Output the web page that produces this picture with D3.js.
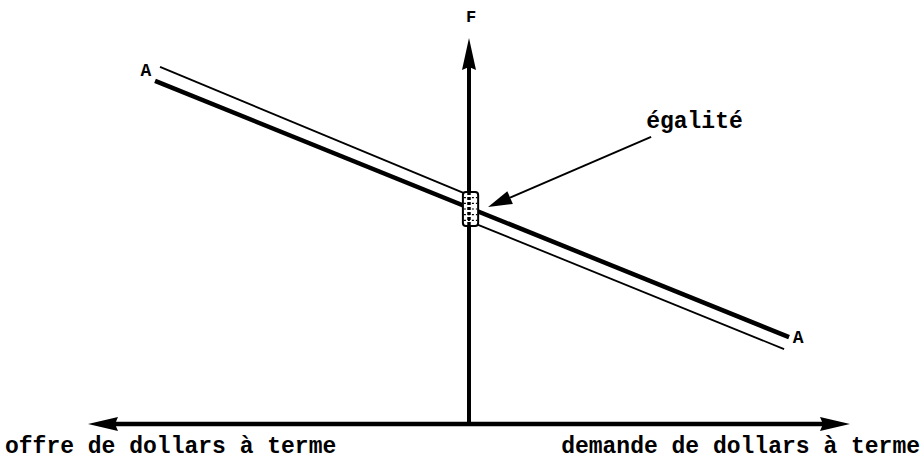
<!DOCTYPE html>
<html>
<head>
<meta charset="utf-8">
<script src="https://cdn.jsdelivr.net/npm/d3@7"></script>
<style>
  html, body { margin: 0; padding: 0; background: #fff; }
  svg { display: block; }
  text { font-family: "Liberation Mono", "DejaVu Sans Mono", monospace; font-weight: bold; fill: #000; }
</style>
</head>
<body>
<svg id="chart" width="924" height="461"></svg>
<script>
// ---- data (chart units: x = dollar quantity, negative = offre, positive = demande; y = F) ----
const xDomain = [-10, 10];
const yDomain = [0, 10];
const axisLabels = ["offre de dollars à terme", "demande de dollars à terme"];
const yAxisLabel = "F";
const curveNames = ["A", "A"];
// curve A (thick)
const curveThick = [[-8.24, 8.89], [8.40, 2.25]];
// thin twin: above A on the left of the F axis, below A on the right
const curveThinLeft = [[-8.11, 9.25], [-0.13, 5.98]];
const curveThinRight = [[0.24, 5.16], [8.27, 1.94]];
const curveLabelPts = [[-8.48, 9.17], [8.64, 2.25]];
const equalityBox = [[-0.16, 6.01], [0.24, 5.13]];
const annotationText = "égalité";
const annotationTextPt = [4.65, 7.67];
const annotationFrom = [4.78, 7.44];
const annotationTo = [0.5, 5.62];

// ---- scales ----
const W = 924, H = 461;
const x = d3.scaleLinear().domain(xDomain).range([88, 850]);
const y = d3.scaleLinear().domain(yDomain).range([424, 38]);

const svg = d3.select("#chart");
svg.append("rect").attr("width", W).attr("height", H).attr("fill", "#fff");

const line = d3.line().x(d => x(d[0])).y(d => y(d[1]));

// ---- axes with arrowheads ----
const x0 = x(0), y0 = y(0);
const xl = x(xDomain[0]), xr = x(xDomain[1]), yt = y(yDomain[1]);
svg.append("line")
  .attr("x1", xl + 20).attr("x2", xr - 20)
  .attr("y1", y0).attr("y2", y0)
  .attr("stroke", "#000").attr("stroke-width", 4.5);
svg.append("path")
  .attr("d", `M${xl},${y0} L${xl + 30},${y0 - 7} L${xl + 27},${y0} L${xl + 30},${y0 + 7} Z`)
  .attr("fill", "#000");
svg.append("path")
  .attr("d", `M${xr},${y0} L${xr - 30},${y0 - 7} L${xr - 27},${y0} L${xr - 30},${y0 + 7} Z`)
  .attr("fill", "#000");
svg.append("line")
  .attr("x1", x0).attr("x2", x0)
  .attr("y1", y0).attr("y2", yt + 20)
  .attr("stroke", "#000").attr("stroke-width", 4);
svg.append("path")
  .attr("d", `M${x0},${yt} L${x0 - 7},${yt + 32} L${x0},${yt + 29} L${x0 + 7},${yt + 32} Z`)
  .attr("fill", "#000");

// axis labels
svg.append("text").attr("x", 5).attr("y", 453)
  .attr("font-size", 23).text(axisLabels[0]);
svg.append("text").attr("x", 920).attr("y", 453).attr("text-anchor", "end")
  .attr("font-size", 23).text(axisLabels[1]);
svg.append("text").attr("x", x0 + 2).attr("y", 22).attr("text-anchor", "middle")
  .attr("font-size", 17).attr("font-family", "Liberation Serif").text(yAxisLabel);

// ---- curves ----
[curveThinLeft, curveThinRight].forEach(seg => {
  svg.append("path").datum(seg).attr("d", line)
    .attr("fill", "none").attr("stroke", "#000").attr("stroke-width", 1.8);
});
svg.append("path").datum(curveThick).attr("d", line)
  .attr("fill", "none").attr("stroke", "#000").attr("stroke-width", 4.5);

svg.selectAll(".clabel").data(curveLabelPts).enter().append("text")
  .attr("class", "clabel")
  .attr("x", d => x(d[0])).attr("y", d => y(d[1]) + 6)
  .attr("text-anchor", "middle").attr("font-size", 18)
  .attr("font-family", "Liberation Serif")
  .text((d, i) => curveNames[i]);

// ---- equality box ----
const bx = x(equalityBox[0][0]), by = y(equalityBox[0][1]);
const bw = x(equalityBox[1][0]) - bx, bh = y(equalityBox[1][1]) - by;
svg.append("rect").attr("x", bx).attr("y", by).attr("width", bw).attr("height", bh)
  .attr("rx", 3).attr("fill", "#fff").attr("stroke", "#000").attr("stroke-width", 2);
svg.append("line").attr("x1", x0).attr("x2", x0).attr("y1", by).attr("y2", by + bh)
  .attr("stroke", "#000").attr("stroke-width", 3.5).attr("stroke-dasharray", "3,2");
for (let k = 1; k < 6; k++) {
  const yy = by + k * bh / 6;
  svg.append("line").attr("x1", bx + 1).attr("x2", bx + bw - 1).attr("y1", yy).attr("y2", yy)
    .attr("stroke", "#000").attr("stroke-width", 1.2).attr("stroke-dasharray", "2,2");
}

// ---- annotation ----
svg.append("text").attr("x", x(annotationTextPt[0])).attr("y", y(annotationTextPt[1]))
  .attr("font-size", 23).text(annotationText);
const ax1 = x(annotationFrom[0]), ay1 = y(annotationFrom[1]);
const ax2 = x(annotationTo[0]), ay2 = y(annotationTo[1]);
const ang = Math.atan2(ay2 - ay1, ax2 - ax1);
const hl = 24, hw = 7;
const bxp = ax2 - hl * Math.cos(ang), byp = ay2 - hl * Math.sin(ang);
svg.append("line").attr("x1", ax1).attr("y1", ay1).attr("x2", bxp).attr("y2", byp)
  .attr("stroke", "#000").attr("stroke-width", 2);
svg.append("path")
  .attr("d", `M${ax2},${ay2} L${bxp + hw * Math.sin(ang)},${byp - hw * Math.cos(ang)} L${bxp - hw * Math.sin(ang)},${byp + hw * Math.cos(ang)} Z`)
  .attr("fill", "#000");
</script>
</body>
</html>
